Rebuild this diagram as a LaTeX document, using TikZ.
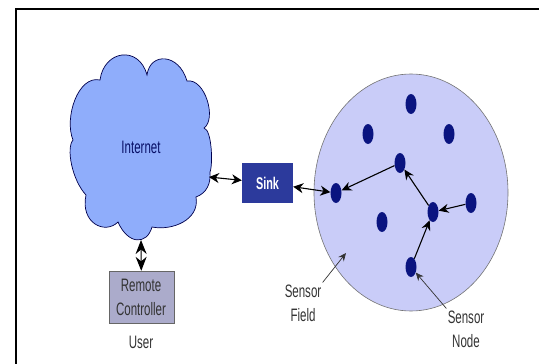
\documentclass[tikz,border=0pt]{standalone}
\usepackage{fontspec}
\setmainfont{Liberation Sans}
\usepackage{tikz}
\usetikzlibrary{arrows.meta,shapes.geometric}
\definecolor{cloudblue}{HTML}{8FADFB}
\definecolor{fieldblue}{HTML}{C9CCF8}
\definecolor{sinkblue}{HTML}{2C3A9C}
\definecolor{dotblue}{HTML}{0A1480}
\definecolor{remotegrey}{HTML}{ABABCB}
\definecolor{textgrey}{HTML}{333333}
\tikzstyle{vertex}=[ellipse,fill=dotblue,minimum width=11pt,minimum height=20pt,inner sep=0pt]
\tikzstyle{label}=[font=\fontsize{18}{24}\selectfont,align=center,text=textgrey,inner sep=2pt,xscale=0.64,transform shape]
\tikzstyle{line} = [draw, line width=1.1pt, -{Stealth[length=10pt,width=9pt]}]
\tikzstyle{both} = [draw, line width=1.1pt, {Stealth[length=10pt,width=10pt]}-{Stealth[length=10pt,width=10pt]}]
\tikzstyle{bigboth} = [draw, line width=1.1pt, {Stealth[length=14pt,width=11pt]}-{Stealth[length=14pt,width=11pt]}]
\tikzstyle{pointer} = [draw, line width=0.7pt, color=textgrey, -{Stealth[length=8pt,width=7pt]}]

\begin{document}
\begin{tikzpicture}[x=1pt,y=-1pt]
  \useasboundingbox (0,0) rectangle (539,364);
  % frame
  \draw[line width=2pt] (539,9) -- (15.5,9) -- (15.5,364);
  % cloud
  \draw[fill=cloudblue,draw=black!70!blue,line width=0.7pt] (100,80)
    .. controls (104,50) and (139,45) .. (147,75)
    .. controls (150,52) and (179,53) .. (187,81)
    .. controls (205,78) and (217,119) .. (204,128)
    .. controls (212,130) and (213,165) .. (210,172)
    .. controls (211,183) and (207,193) .. (196,197)
    .. controls (200,220) and (172,231) .. (152,227)
    .. controls (147,245) and (128,245) .. (118,222)
    .. controls (105,235) and (80,223) .. (86,195)
    .. controls (72,180) and (66,148) .. (73,140)
    .. controls (64,118) and (78,75) .. cycle;
  \node[label,text=dotblue!80!black] (internet) at (141,147) {Internet};
  \coordinate (cloudeast) at (209,177);
  \coordinate (cloudsouth) at (141,240);
  % sink and user
  \node[rectangle,fill=sinkblue,minimum width=51pt,minimum height=40pt,inner sep=0pt] (sink) at (267.5,183) {};
  \node[label,text=white,font=\fontsize{17}{24}\selectfont\bfseries] (sinklabel) at (267.5,183) {Sink};
  \node[rectangle,fill=remotegrey,draw=black!60,minimum width=65pt,minimum height=52pt,inner sep=0pt] (remote) at (141.5,297) {};
  \node[label] (remotelabel) at (141,297) {Remote\\Controller};
  \node[label] (user) at (141,342) {User};
  % field
  \node[ellipse,fill=fieldblue,draw=black!55,line width=0.6pt,minimum width=194pt,minimum height=237pt,inner sep=0pt] (field) at (411,192.5) {};
  % sensors
  \node[vertex] (s1) at (411,104) {};
  \node[vertex] (s2) at (368,134) {};
  \node[vertex] (s3) at (449,134) {};
  \node[vertex] (s4) at (400,163) {};
  \node[vertex] (s5) at (336,193) {};
  \node[vertex] (s6) at (433,212) {};
  \node[vertex] (s7) at (471,203) {};
  \node[vertex] (s8) at (382,222) {};
  \node[vertex] (s9) at (411,267) {};
  % arrows
  \draw[both] (cloudeast) -- (sink);
  \draw[bigboth] (cloudsouth) -- (remote);
  \draw[both] (sink) -- (s5);
  \draw[line] (s4) -- (s5);
  \draw[line] (s6) -- (s4);
  \draw[line] (s7) -- (s6);
  \draw[line] (s9) -- (s6);
  % labels
  \node[label] (fieldlabel) at (303,303) {Sensor\\Field};
  \node[label] (nodelabel) at (466,329) {Sensor\\Node};
  \coordinate (fieldtip) at (346,253);
  \draw[pointer] (fieldlabel.north east) -- (fieldtip);
  \draw[pointer] (nodelabel.north west) -- (s9);
\end{tikzpicture}
\end{document}
